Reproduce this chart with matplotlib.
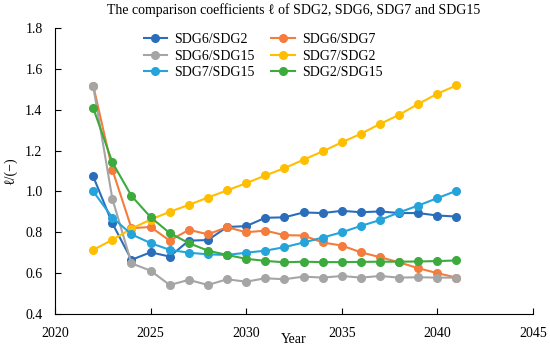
import matplotlib
matplotlib.use('Agg')
import matplotlib.pyplot as plt

plt.rcParams['font.family'] = ['Liberation Serif', 'DejaVu Serif']

years = list(range(2022, 2042))

sdg6_sdg2 = [1.073, 0.844, 0.665, 0.702, 0.681, 0.759, 0.762, 0.826, 0.830, 0.871,
             0.873, 0.897, 0.894, 0.905, 0.898, 0.902, 0.894, 0.894, 0.882, 0.877]
sdg6_sdg7 = [1.518, 1.106, 0.820, 0.826, 0.759, 0.812, 0.790, 0.825, 0.800, 0.808,
             0.786, 0.784, 0.750, 0.735, 0.702, 0.678, 0.653, 0.624, 0.600, 0.578]
sdg6_sdg15 = [1.514, 0.964, 0.648, 0.612, 0.542, 0.567, 0.542, 0.570, 0.558, 0.575,
              0.570, 0.583, 0.578, 0.586, 0.578, 0.586, 0.578, 0.580, 0.578, 0.578]
sdg7_sdg2 = [0.714, 0.763, 0.818, 0.862, 0.900, 0.934, 0.970, 1.005, 1.040, 1.078,
             1.114, 1.155, 1.196, 1.240, 1.282, 1.330, 1.375, 1.428, 1.478, 1.519]
sdg7_sdg15 = [1.000, 0.872, 0.790, 0.747, 0.714, 0.700, 0.692, 0.689, 0.700, 0.710,
              0.727, 0.750, 0.774, 0.800, 0.831, 0.860, 0.897, 0.931, 0.967, 1.003]
sdg2_sdg15 = [1.408, 1.142, 0.978, 0.874, 0.796, 0.747, 0.710, 0.689, 0.670, 0.660,
              0.653, 0.656, 0.654, 0.654, 0.655, 0.656, 0.656, 0.657, 0.659, 0.662]

series = [
    ('SDG6/SDG2', sdg6_sdg2, '#2A6EBB'),
    ('SDG6/SDG7', sdg6_sdg7, '#F47C3C'),
    ('SDG6/SDG15', sdg6_sdg15, '#A5A5A5'),
    ('SDG7/SDG2', sdg7_sdg2, '#FFBF00'),
    ('SDG7/SDG15', sdg7_sdg15, '#25A4DB'),
    ('SDG2/SDG15', sdg2_sdg15, '#3DAA3D'),
]

fig = plt.figure(figsize=(5.5, 3.48), dpi=100)
ax = fig.add_axes([0.1, 0.0977, 0.869, 0.822])

lines = []
for name, vals, col in series:
    ln, = ax.plot(years, vals, color=col, lw=1.5, marker='o', ms=5.5, label=name)
    lines.append(ln)

ax.set_xlim(2020, 2045)
ax.set_ylim(0.4, 1.8)
ax.set_xticks([2020, 2025, 2030, 2035, 2040, 2045])
ax.set_yticks([0.4, 0.6, 0.8, 1.0, 1.2, 1.4, 1.6, 1.8])
ax.set_yticklabels(['0.4', '0.6', '0.8', '1.0', '1.2', '1.4', '1.6', '1.8'])
ax.tick_params(direction='in', labelsize=10, length=4, pad=9)
ax.spines['top'].set_visible(False)
ax.spines['right'].set_visible(False)

ax.set_xlabel('Year', fontsize=10, labelpad=-5)
ax.set_ylabel('ℓ/(−)', fontsize=10, labelpad=6)
ax.set_title('The comparison coefficients ℓ of SDG2, SDG6, SDG7 and SDG15', fontsize=10, pad=10)

# legend filled row by row, like the original
order = [0, 2, 4, 1, 3, 5]
ax.legend([lines[i] for i in order], [series[i][0] for i in order],
          loc='upper center', ncol=2, frameon=False, fontsize=10,
          bbox_to_anchor=(0.435, 1.025), handlelength=1.7, columnspacing=1.2,
          labelspacing=0.25, handletextpad=0.5)

fig.savefig('out.png', dpi=100)
